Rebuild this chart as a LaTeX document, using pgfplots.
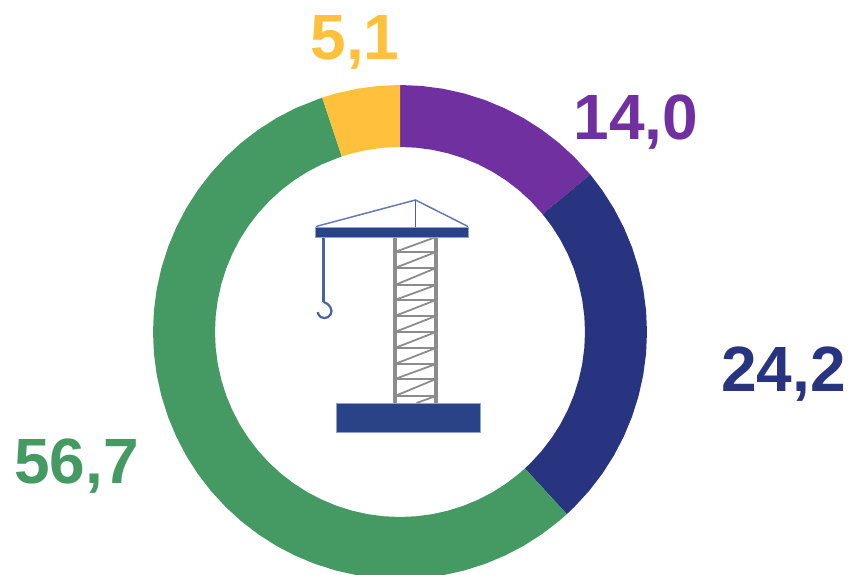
\documentclass[border=0pt]{standalone}
\usepackage{fontspec}
\setmainfont{Liberation Sans}
\usepackage{pgfplots}
\pgfplotsset{compat=1.18}
\definecolor{segYellow}{HTML}{FFC13B}
\definecolor{segPurple}{HTML}{7030A0}
\definecolor{segNavy}{HTML}{28347F}
\definecolor{segGreen}{HTML}{459A63}
\definecolor{craneBlue}{HTML}{2A4288}
\definecolor{craneLine}{HTML}{4A62A4}
\definecolor{craneGrey}{HTML}{8C8C8C}
\newcommand{\lab}[1]{\fontsize{64}{64}\selectfont\bfseries #1}
\begin{document}
\begin{tikzpicture}
\path[use as bounding box] (0,0) rectangle (849pt,575pt);
\begin{axis}[
  at={(0,0)}, anchor=south west,
  scale only axis, width=849pt, height=575pt,
  xmin=-400, xmax=449, ymin=-243, ymax=332,
  hide axis, clip=true,
]
% ring: 14.0, 24.2, 56.7, 5.1 clockwise from the top; (angle, radius)
\addplot[data cs=polar, fill=segPurple, draw=none] coordinates {
  (90,247) (85,247) (80,247) (75,247) (70,247) (65,247) (60,247) (55,247) (50,247) (45,247) (39.6,247)
  (39.6,185) (45,185) (50,185) (55,185) (60,185) (65,185) (70,185) (75,185) (80,185) (85,185) (90,185)
} --cycle;
\addplot[data cs=polar, fill=segNavy, draw=none] coordinates {
  (39.6,247) (35,247) (30,247) (25,247) (20,247) (15,247) (10,247) (5,247) (0,247) (-5,247) (-10,247) (-15,247) (-20,247) (-25,247) (-30,247) (-35,247) (-40,247) (-45,247) (-47.52,247)
  (-47.52,185) (-45,185) (-40,185) (-35,185) (-30,185) (-25,185) (-20,185) (-15,185) (-10,185) (-5,185) (0,185) (5,185) (10,185) (15,185) (20,185) (25,185) (30,185) (35,185) (39.6,185)
} --cycle;
\addplot[data cs=polar, fill=segGreen, draw=none] coordinates {
  (-47.52,247) (-50,247) (-55,247) (-60,247) (-65,247) (-70,247) (-75,247) (-80,247) (-85,247) (-90,247) (-95,247) (-100,247) (-105,247) (-110,247) (-115,247) (-120,247) (-125,247) (-130,247) (-135,247) (-140,247) (-145,247) (-150,247) (-155,247) (-160,247) (-165,247) (-170,247) (-175,247) (-180,247) (-185,247) (-190,247) (-195,247) (-200,247) (-205,247) (-210,247) (-215,247) (-220,247) (-225,247) (-230,247) (-235,247) (-240,247) (-245,247) (-251.64,247)
  (-251.64,185) (-245,185) (-240,185) (-235,185) (-230,185) (-225,185) (-220,185) (-215,185) (-210,185) (-205,185) (-200,185) (-195,185) (-190,185) (-185,185) (-180,185) (-175,185) (-170,185) (-165,185) (-160,185) (-155,185) (-150,185) (-145,185) (-140,185) (-135,185) (-130,185) (-125,185) (-120,185) (-115,185) (-110,185) (-105,185) (-100,185) (-95,185) (-90,185) (-85,185) (-80,185) (-75,185) (-70,185) (-65,185) (-60,185) (-55,185) (-50,185) (-47.52,185)
} --cycle;
\addplot[data cs=polar, fill=segYellow, draw=none] coordinates {
  (108.36,247) (105,247) (100,247) (95,247) (90,247)
  (90,185) (95,185) (100,185) (105,185) (108.36,185)
} --cycle;
% crane: tower
\addplot[craneGrey, line width=1.8pt] coordinates {(-5,80) (36,95)};
\addplot[craneGrey, line width=1.8pt] coordinates {(-5,64) (36,80)};
\addplot[craneGrey, line width=1.8pt] coordinates {(-5,47) (36,64)};
\addplot[craneGrey, line width=1.8pt] coordinates {(-5,32) (36,47)};
\addplot[craneGrey, line width=1.8pt] coordinates {(-5,16) (36,32)};
\addplot[craneGrey, line width=1.8pt] coordinates {(-5,0) (36,16)};
\addplot[craneGrey, line width=1.8pt] coordinates {(-5,-16) (36,0)};
\addplot[craneGrey, line width=1.8pt] coordinates {(-5,-32) (36,-16)};
\addplot[craneGrey, line width=1.8pt] coordinates {(-5,-47) (36,-32)};
\addplot[craneGrey, line width=1.8pt] coordinates {(-5,-64) (36,-47)};
\addplot[craneGrey, line width=1.8pt] coordinates {(16.5,-71) (36,-64)};
\addplot[craneGrey, line width=2.3pt] coordinates {(-5,80) (36,80)};
\addplot[craneGrey, line width=2.3pt] coordinates {(-5,64) (36,64)};
\addplot[craneGrey, line width=2.3pt] coordinates {(-5,47) (36,47)};
\addplot[craneGrey, line width=2.3pt] coordinates {(-5,32) (36,32)};
\addplot[craneGrey, line width=2.3pt] coordinates {(-5,16) (36,16)};
\addplot[craneGrey, line width=2.3pt] coordinates {(-5,0) (36,0)};
\addplot[craneGrey, line width=2.3pt] coordinates {(-5,-16) (36,-16)};
\addplot[craneGrey, line width=2.3pt] coordinates {(-5,-32) (36,-32)};
\addplot[craneGrey, line width=2.3pt] coordinates {(-5,-47) (36,-47)};
\addplot[craneGrey, line width=2.3pt] coordinates {(-5,-64) (36,-64)};
\addplot[craneGrey, line width=3.2pt] coordinates {(-5,95) (-5,-71)};
\addplot[craneGrey, line width=3.2pt] coordinates {(36,95) (36,-71)};
% crane: roof, jib, hook, base
\addplot[craneLine!85, line width=1.5pt] coordinates {(-84,105.5) (15.5,132) (68,105.5)};
\addplot[craneLine, line width=1.5pt] coordinates {(15.5,132) (15.5,105)};
\addplot[craneLine, line width=2.2pt] coordinates {(-76.5,95) (-76.5,30)};
\addplot[craneLine, line width=2.2pt, smooth] coordinates {
  (-76.5,30) (-72.5,28) (-69.5,24.5) (-68.5,21) (-69.5,17.5) (-72,14.8) (-75.5,14) (-79,14.8) (-81.5,17.5) (-82,20)
};
\addplot[fill=craneBlue, draw=craneLine!60, line width=0.6pt] coordinates {(-84.5,105) (68.5,105) (68.5,95) (-84.5,95)} --cycle;
\addplot[fill=craneBlue, draw=craneLine!60, line width=0.6pt] coordinates {(-64,-71) (80,-71) (80,-100) (-64,-100)} --cycle;
% labels
\node[anchor=base, text=segYellow] at (axis cs:-45,272) {\lab{5,1}};
\node[anchor=base, text=segPurple] at (axis cs:236,192) {\lab{14,0}};
\node[anchor=base, text=segNavy] at (axis cs:383.5,-60) {\lab{24,2}};
\node[anchor=base, text=segGreen] at (axis cs:-323.5,-152) {\lab{56,7}};
\end{axis}
\end{tikzpicture}
\end{document}
